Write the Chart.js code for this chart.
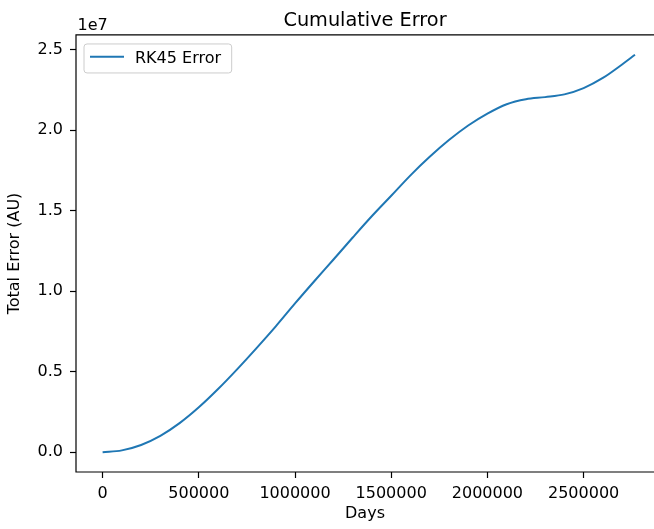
<!DOCTYPE html>
<html><head><meta charset="utf-8">
<script src="https://cdn.jsdelivr.net/npm/chart.js@4/dist/chart.umd.min.js"></script>
<style>
html,body{margin:0;padding:0;background:#fff;overflow:hidden;width:654px;height:529px}
canvas{display:block}
</style>
</head><body>
<canvas id="c" width="654" height="529"></canvas>
<script>
// ---- data ----
const days = [0, 100000, 200000, 300000, 400000, 500000, 600000, 700000, 800000, 900000,
  1000000, 1100000, 1200000, 1300000, 1400000, 1500000, 1600000, 1700000, 1800000, 1900000,
  2000000, 2100000, 2200000, 2300000, 2400000, 2500000, 2600000, 2700000, 2767000];
const rk45Error = [0, 110000, 445000, 1010000, 1800000, 2785000, 3920000, 5160000, 6465000, 7815000,
  9240000, 10620000, 11970000, 13335000, 14670000, 15930000, 17200000, 18350000, 19390000, 20295000,
  21035000, 21620000, 21930000, 22060000, 22230000, 22620000, 23250000, 24090000, 24690000];
const xTickValues = [0, 500000, 1000000, 1500000, 2000000, 2500000];
const yTickValues = [0, 5000000, 10000000, 15000000, 20000000, 25000000];
const seriesLabel = 'RK45 Error';
const chartTitle = 'Cumulative Error';
const xAxisLabel = 'Days';
const yAxisLabel = 'Total Error (AU)';
const yOffsetText = '1e7';
// visible axis window (the reference figure is cropped at its right edge)
const xMin = -138350, xMax = 2865850;
const yMin = -1234400, yMax = 25922400;

const FONT = "'DejaVu Sans', sans-serif";
const TXT = '#000';
const LINE = '#1f77b4';

function roundedBox(ctx, x, y, w, h, r) {
  ctx.beginPath();
  ctx.moveTo(x + r, y);
  ctx.lineTo(x + w - r, y);
  ctx.arcTo(x + w, y, x + w, y + r, r);
  ctx.lineTo(x + w, y + h - r);
  ctx.arcTo(x + w, y + h, x + w - r, y + h, r);
  ctx.lineTo(x + r, y + h);
  ctx.arcTo(x, y + h, x, y + h - r, r);
  ctx.lineTo(x, y + r);
  ctx.arcTo(x, y, x + r, y, r);
  ctx.closePath();
}

const framePlugin = {
  id: 'frame',
  afterDraw(chart) {
    const {ctx, chartArea: a} = chart;
    // keep the cropped right edge free of any spine, as in the reference
    ctx.save();
    ctx.fillStyle = '#ffffff';
    ctx.fillRect(a.right - 3, a.top + 1, 12, a.bottom - a.top - 2);
    ctx.restore();

    // spines: top, left, bottom
    ctx.save();
    ctx.strokeStyle = '#000';
    ctx.lineWidth = 1.2;
    ctx.beginPath();
    ctx.moveTo(a.right + 4, a.top);
    ctx.lineTo(a.left, a.top);
    ctx.lineTo(a.left, a.bottom);
    ctx.lineTo(a.right + 4, a.bottom);
    ctx.stroke();
    ctx.restore();

    ctx.save();
    ctx.fillStyle = TXT;
    ctx.font = "16px " + FONT;
    ctx.textAlign = 'left';
    ctx.textBaseline = 'alphabetic';
    ctx.fillText(yOffsetText, a.left + 1.5, a.top - 5);
    ctx.restore();

    // legend
    const lx = a.left + 8, ly = a.top + 9, lw = 147.7, lh = 29;
    ctx.save();
    roundedBox(ctx, lx, ly, lw, lh, 3);
    ctx.fillStyle = 'rgba(255,255,255,0.8)';
    ctx.fill();
    ctx.strokeStyle = '#cccccc';
    ctx.lineWidth = 1;
    ctx.stroke();
    ctx.restore();

    ctx.save();
    ctx.beginPath();
    ctx.strokeStyle = chart.data.datasets[0].borderColor;
    ctx.lineWidth = 2;
    ctx.moveTo(lx + 6, ly + 12.7);
    ctx.lineTo(lx + 40, ly + 12.7);
    ctx.stroke();
    ctx.fillStyle = TXT;
    ctx.font = "16px " + FONT;
    ctx.textAlign = 'left';
    ctx.textBaseline = 'alphabetic';
    ctx.fillText(chart.data.datasets[0].label, lx + 51, ly + 19);
    ctx.restore();

    // final pass: ensure nothing remains along the cropped right edge
    ctx.save();
    ctx.fillStyle = '#ffffff';
    ctx.fillRect(a.right - 3, a.top + 1, 12, a.bottom - a.top - 2);
    ctx.restore();
  }
};

new Chart(document.getElementById('c'), {
  type: 'line',
  data: {
    datasets: [{
      label: seriesLabel,
      data: days.map((d, i) => ({x: d, y: rk45Error[i]})),
      borderColor: LINE, backgroundColor: LINE, borderWidth: 2,
      pointRadius: 0, fill: false, cubicInterpolationMode: 'monotone'
    }]
  },
  options: {
    responsive: false, devicePixelRatio: 1, animation: false, events: [],
    layout: {padding: {left: 0, right: 0, top: 0, bottom: 0}},
    plugins: {
      legend: {display: false}, tooltip: {enabled: false},
      title: {
        display: true, fullSize: false, text: chartTitle, color: TXT,
        font: {family: FONT, size: 19.3, weight: 'normal', lineHeight: 1.2},
        padding: {top: 9.2, bottom: 2.6}
      }
    },
    scales: {
      x: {
        type: 'linear', position: 'bottom', min: xMin, max: xMax,
        afterBuildTicks: s => { s.ticks = xTickValues.map(v => ({value: v})); },
        afterFit: s => { s.height = 57; },
        ticks: {color: TXT, font: {family: FONT, size: 16}, padding: 6, maxRotation: 0, autoSkip: false, callback: v => String(v)},
        grid: {display: true, drawOnChartArea: false, drawTicks: true, tickLength: 6, tickWidth: 1.2, tickColor: '#000'},
        border: {display: false},
        title: {display: true, text: xAxisLabel, color: TXT, font: {family: FONT, size: 16, lineHeight: 1.2}, padding: {top: 0, bottom: 5.4}}
      },
      y: {
        type: 'linear', position: 'left', min: yMin, max: yMax,
        afterBuildTicks: s => { s.ticks = yTickValues.map(v => ({value: v})); },
        afterFit: s => { s.width = 76; },
        ticks: {color: TXT, font: {family: FONT, size: 16}, padding: 7, autoSkip: false, callback: v => (v / 1e7).toFixed(1)},
        grid: {display: true, drawOnChartArea: false, drawTicks: true, tickLength: 6, tickWidth: 1.2, tickColor: '#000'},
        border: {display: false},
        title: {display: true, text: yAxisLabel, color: TXT, font: {family: FONT, size: 16, lineHeight: 1.2}, padding: {top: 4.9, bottom: 0}}
      }
    }
  },
  plugins: [framePlugin]
});
</script>
</body></html>
